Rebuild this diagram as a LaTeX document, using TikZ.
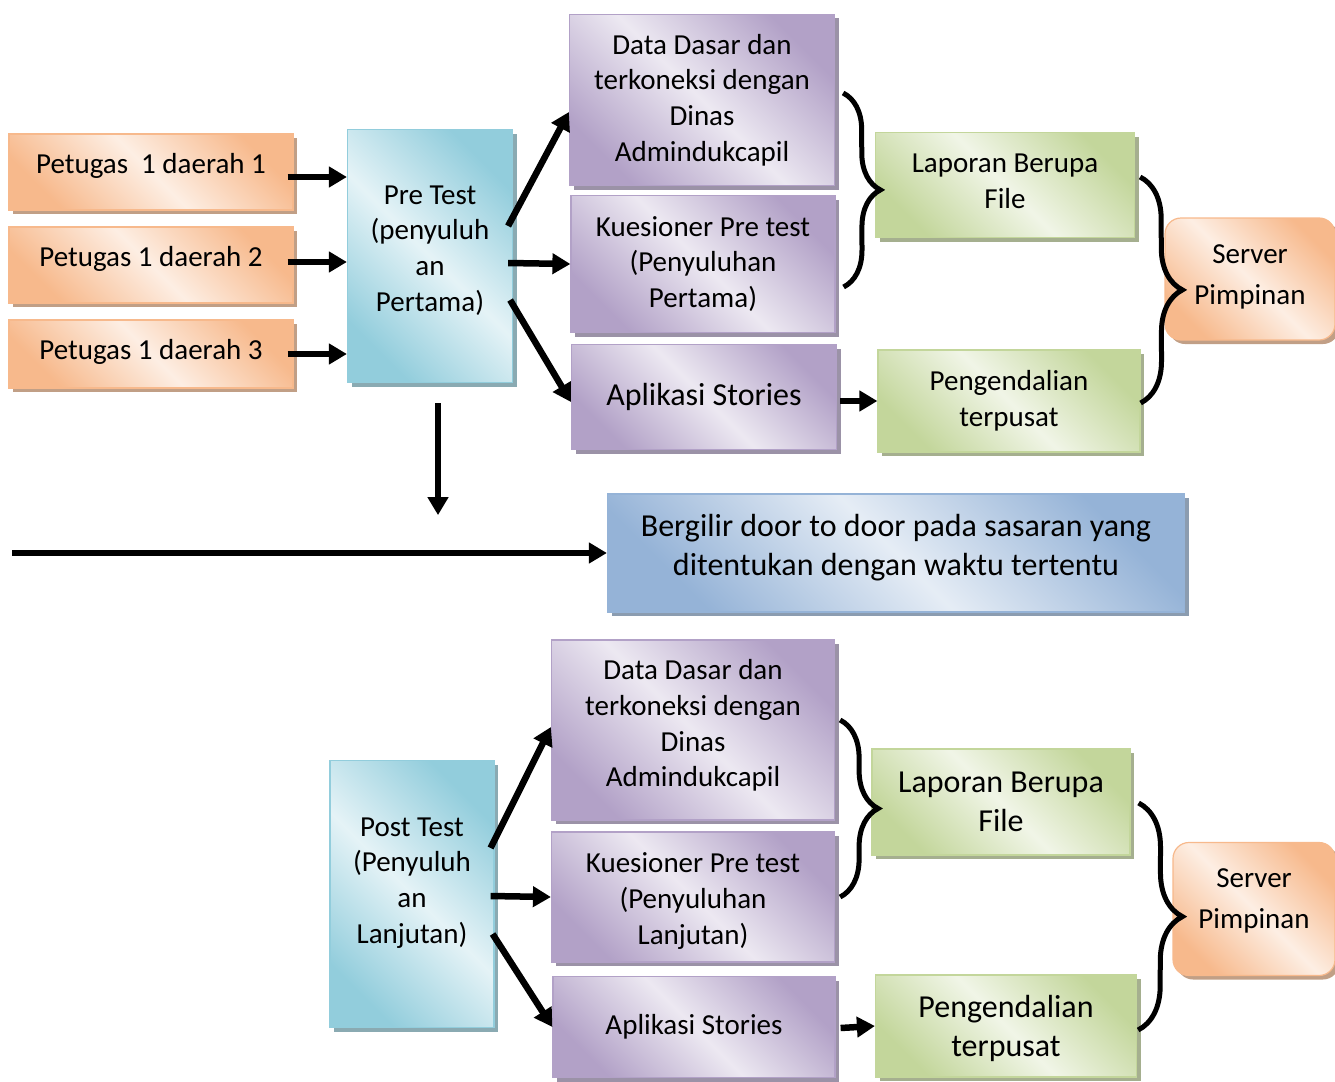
\documentclass[tikz,border=0pt]{standalone}
\usepackage{fontspec}
\setmainfont{Carlito}
\usetikzlibrary{arrows.meta,shadows,decorations.pathreplacing}

\definecolor{peach}{HTML}{F7B98C}
\definecolor{lilac}{HTML}{B2A1C7}
\definecolor{aqua}{HTML}{92CDDC}
\definecolor{sage}{HTML}{C3D69B}
\definecolor{steel}{HTML}{95B3D7}

% extra room below / above the text, to move it inside its box
\newcommand\dn[1]{\rule[-#1pt]{0pt}{0pt}}
\newcommand\up[1]{\rule{0pt}{#1pt}}

\begin{document}
\begin{tikzpicture}[x=1pt,y=-1pt,
  box/.style={draw=#1, line width=1.2pt, top color=#1, bottom color=#1,
    middle color=#1!24!white, shading angle=135,
    drop shadow={shadow xshift=4pt, shadow yshift=-4pt, fill=#1!55!gray, opacity=1},
    align=center, inner sep=0pt, font=\fontsize{29}{35.7}\selectfont},
  big/.style={font=\fontsize{32}{39}\selectfont},
  srv/.style={rounded corners=16pt, font=\fontsize{29}{41}\selectfont},
  arr/.style={line width=6.5pt, -{Triangle[length=18pt,width=20pt]}},
  brc/.style={line width=5pt, decorate, decoration={brace, amplitude=#1}}]

\useasboundingbox (0,0) rectangle (1335,1081);

% petugas dan pre test
\node[box=peach, minimum width=284, minimum height=76] (pa) at (151,172) {Petugas\ \ 1 daerah 1\dn{17.5}};
\node[box=peach, minimum width=284, minimum height=76] (pb) at (151,265) {Petugas 1 daerah 2\dn{17.5}};
\node[box=peach, minimum width=284, minimum height=68] (pc) at (151,354) {Petugas 1 daerah 3\dn{9.5}};
\node[box=aqua, minimum width=165, minimum height=253] (pre) at (430,256) {Pre Test\\(penyuluh\\an\\Pertama)\dn{15}};

\draw[arr] ([shift={(-6,5)}]pa.east) -- ([shift={(0,5)}]pre.west |- pa.east);
\draw[arr] ([shift={(-6,-3)}]pb.east) -- ([shift={(0,-3)}]pre.west |- pb.east);
\draw[arr] ([shift={(-6,0)}]pc.east) -- (pre.west |- pc.east);

% hasil pre test
\node[box=lilac, minimum width=265, minimum height=171] (dataA) at (702,100) {Data Dasar dan\\terkoneksi dengan\\Dinas\\Admindukcapil};
\node[box=lilac, minimum width=264, minimum height=137] (kuesA) at (703,264) {Kuesioner Pre test\\(Penyuluhan\\Pertama)};
\node[box=lilac, big, minimum width=265, minimum height=105] (aplA) at (704,397) {Aplikasi Stories};

\draw[arr] ([shift={(-5,-30)}]pre.east) -- ([shift={(0,12)}]dataA.west);
\draw[arr] ([shift={(-5,7)}]pre.east) -- (kuesA.west);
\draw[arr] ([shift={(-3,44)}]pre.east) -- ([shift={(0,5)}]aplA.west);

\node[box=sage, minimum width=259, minimum height=105] (lapA) at (1005,185) {Laporan Berupa\\File\dn{8}};
\node[box=sage, minimum width=262, minimum height=102] (penA) at (1009,401) {Pengendalian\\terpusat};
\node[box=peach, srv, minimum width=170, minimum height=122] (servA) at (1250,279) {Server\\Pimpinan\dn{9.5}};

\draw[arr] ([shift={(3,4)}]aplA.east) -- (penA.west);
\draw[brc=37] ([shift={(8,-7)}]dataA.east) -- ([shift={(8,23)}]kuesA.east);
\draw[brc=42] ([shift={(5,-8)}]lapA.east) -- ([shift={(0,2)}]penA.east);

% door to door
\node[box=steel, big, minimum width=577, minimum height=118] (berg) at (896,553) {Bergilir door to door pada sasaran yang\\ditentukan dengan waktu tertentu\dn{16}};
\coordinate (lane) at (12,553);
\draw[arr] ([shift={(8,20)}]pre.south) -- ++(0,112);
\draw[arr] (lane) -- (berg.west);

% post test
\node[box=aqua, minimum width=164, minimum height=267] (post) at (412,894) {Post Test\\(Penyuluh\\an\\Lanjutan)\dn{27}};
\node[box=lilac, minimum width=283, minimum height=180] (dataB) at (693,730) {Data Dasar dan\\terkoneksi dengan\\Dinas\\Admindukcapil\dn{13.5}};
\node[box=lilac, minimum width=283, minimum height=130] (kuesB) at (693,897) {\up{28}Kuesioner Pre test\\(Penyuluhan\\Lanjutan)};
\node[box=lilac, minimum width=282, minimum height=101] (aplB) at (694,1027) {Aplikasi Stories};

\draw[arr] ([shift={(-4,-46)}]post.east) -- ([shift={(0,-3)}]dataB.west);
\draw[arr] ([shift={(-4,2)}]post.east) -- (kuesB.west);
\draw[arr] ([shift={(-2,40)}]post.east) -- (aplB.west);

\node[box=sage, big, minimum width=258, minimum height=106] (lapB) at (1001,802) {Laporan Berupa\\File};
\node[box=sage, big, minimum width=261, minimum height=102] (penB) at (1006,1026) {\up{26.5}Pengendalian\\terpusat};
\node[box=peach, srv, minimum width=162, minimum height=133] (servB) at (1254,909) {Server\\Pimpinan\dn{21.5}};

\draw[arr] ([shift={(5,1)}]aplB.east) -- (penB.west);
\draw[brc=38] ([shift={(5,-10)}]dataB.east) -- ([shift={(5,0)}]kuesB.east);
\draw[brc=44] ([shift={(8,1)}]lapB.east) -- ([shift={(1,4)}]penB.east);

\end{tikzpicture}
\end{document}
